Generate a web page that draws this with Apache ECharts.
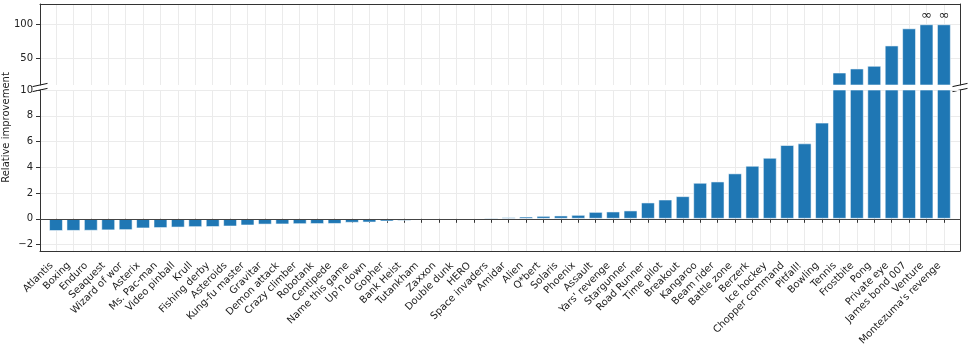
<!DOCTYPE html>
<html>
<head>
	<meta charset="UTF-8">
	<title>Relative improvement</title>
	<script src="https://cdn.jsdelivr.net/npm/echarts@6/dist/echarts.min.js"></script>
	<style>
		html, body { margin: 0; padding: 0; background: #fff; }
		#container { width: 969px; height: 352px; }
	</style>
</head>
<body>
	<div id="container"></div>
	<script>
		// games, sorted by relative improvement
		var games = ['Atlantis', 'Boxing', 'Enduro', 'Seaquest', 'Wizard of wor', 'Asterix', 'Ms. Pac-man',
			'Video pinball', 'Krull', 'Fishing derby', 'Asteroids', 'Kung-fu master', 'Gravitar', 'Demon attack',
			'Crazy climber', 'Robotank', 'Centipede', 'Name this game', "Up'n down", 'Gopher', 'Bank Heist',
			'Tutankham', 'Zaxxon', 'Double dunk', 'HERO', 'Space invaders', 'Amidar', 'Alien', 'Q*bert',
			'Solaris', 'Phoenix', 'Assault', "Yars' revenge", 'Stargunner', 'Road Runner', 'Time pilot',
			'Breakout', 'Kangaroo', 'Beam rider', 'Battle zone', 'Berzerk', 'Ice hockey', 'Chopper command',
			'Pitfall!', 'Bowling', 'Tennis', 'Frostbite', 'Pong', 'Private eye', 'James bond 007', 'Venture',
			"Montezuma's revenge"];
		var improvement = [-0.95, -0.94, -0.93, -0.9, -0.88, -0.75, -0.72,
			-0.68, -0.65, -0.64, -0.6, -0.52, -0.45, -0.44,
			-0.42, -0.41, -0.4, -0.31, -0.29, -0.21, -0.16,
			-0.1, -0.08, -0.06, -0.02, 0.1, 0.13, 0.18, 0.23,
			0.26, 0.31, 0.54, 0.57, 0.65, 1.27, 1.5,
			1.76, 2.8, 2.9, 3.53, 4.12, 4.74, 5.73,
			5.86, 7.47, 28.5, 34.5, 38.5, 68.6, 94, 100,
			100];
		// games whose improvement is infinite (drawn capped at 100)
		var infiniteGames = ['Venture', "Montezuma's revenge"];
		var topTicks = [50, 100];
		var bottomTicks = [-2, 0, 2, 4, 6, 8, 10];

		var dom = document.getElementById("container");
		var myChart = echarts.init(dom);
		var font = 'DejaVu Sans';
		var spine = '#333';
		var gridColor = '#ebebeb';
		var hidden = { show: false };

		var barStyle = {
			color: '#1f77b4',
			borderColor: 'rgba(255,255,255,0.55)',
			borderWidth: 1
		};

		// frame grids (0,1) carry the box, y ticks and horizontal grid;
		// inner grids (2,3) carry the categories with a little padding on both sides
		var panels = [{ top: 4, height: 81 }, { top: 90, height: 161 }];

		function frameX(grid, pos) {
			return {
				type: 'value', gridIndex: grid, min: 0, max: 1, position: pos,
				axisLine: { show: true, onZero: false, lineStyle: { color: spine } },
				axisTick: hidden, axisLabel: hidden, splitLine: hidden
			};
		}
		function frameY(grid, min, max, ticks, pos) {
			var labels = pos === 'left';
			return {
				type: 'value', gridIndex: grid, min: min, max: max, position: pos,
				axisLine: { show: true, lineStyle: { color: spine } },
				axisTick: { show: labels, length: 4, customValues: ticks, lineStyle: { color: spine } },
				axisLabel: {
					show: labels, fontSize: 10, color: '#222', margin: 7, customValues: ticks, fontFamily: font,
					formatter: function (v) { return v < 0 ? '\u2212' + Math.abs(v) : String(v); }
				},
				splitLine: { show: labels, customValues: ticks, lineStyle: { color: gridColor } }
			};
		}

		// little "//" marks where the axis is broken
		function breakMark(cx, cy) {
			return { type: 'line', shape: { x1: cx - 7.5, y1: cy + 1.6, x2: cx + 7.5, y2: cy - 1.6 },
				style: { stroke: '#111', lineWidth: 1 } };
		}

		var option = {
			animation: false,
			textStyle: { fontFamily: font },
			grid: [
				{ left: 40, right: 9, top: panels[0].top, height: panels[0].height },
				{ left: 40, right: 9, top: panels[1].top, height: panels[1].height },
				{ left: 47.3, right: 16.4, top: panels[0].top, height: panels[0].height },
				{ left: 47.3, right: 16.4, top: panels[1].top, height: panels[1].height }
			],
			xAxis: [
				frameX(0, 'top'),
				frameX(1, 'bottom'),
				{
					type: 'category', gridIndex: 2, data: games,
					axisLine: hidden, axisTick: hidden, axisLabel: hidden,
					splitLine: { show: true, interval: 0, alignWithLabel: true, lineStyle: { color: gridColor } }
				},
				{
					type: 'category', gridIndex: 3, data: games, position: 'bottom',
					axisLine: hidden,
					axisTick: { show: true, interval: 0, alignWithLabel: true, length: 4, lineStyle: { color: spine } },
					axisLabel: {
						interval: 0, rotate: 45, fontSize: 10, color: '#222', margin: 8.5,
						padding: [0, 6.4, 0, 0], fontFamily: font
					},
					splitLine: { show: true, interval: 0, alignWithLabel: true, lineStyle: { color: gridColor } }
				}
			],
			yAxis: [
				frameY(0, 10, 130, topTicks, 'left'),
				frameY(1, -2.5, 10, bottomTicks, 'left'),
				frameY(0, 10, 130, topTicks, 'right'),
				frameY(1, -2.5, 10, bottomTicks, 'right'),
				{ type: 'value', gridIndex: 2, min: 10, max: 130, axisLine: hidden, axisTick: hidden, axisLabel: hidden, splitLine: hidden },
				{ type: 'value', gridIndex: 3, min: -2.5, max: 10, axisLine: hidden, axisTick: hidden, axisLabel: hidden, splitLine: hidden }
			],
			series: [
				{
					type: 'bar', xAxisIndex: 2, yAxisIndex: 4, data: improvement, barWidth: '80%',
					itemStyle: barStyle, clip: true,
					label: {
						show: true, position: 'top', distance: 2, fontSize: 13, color: '#222',
						formatter: function (p) { return infiniteGames.indexOf(p.name) >= 0 ? '\u221e' : ''; }
					}
				},
				{
					type: 'bar', xAxisIndex: 3, yAxisIndex: 5, data: improvement, barWidth: '80%',
					itemStyle: barStyle, clip: true
				},
				{
					// zero reference line across the whole lower panel
					type: 'line', xAxisIndex: 1, yAxisIndex: 1, data: [], silent: true,
					markLine: {
						silent: true, symbol: 'none', label: { show: false },
						lineStyle: { color: '#444', width: 1, type: 'solid' },
						data: [{ yAxis: 0 }]
					}
				}
			],
			graphic: [
				{ type: 'text', x: 1, y: 127.5, rotation: Math.PI / 2,
					style: { text: 'Relative improvement', fontSize: 10, fontFamily: font, fill: '#222', align: 'center', verticalAlign: 'top' } },
				breakMark(40, 85),
				breakMark(40, 90),
				breakMark(960, 85),
				breakMark(960, 90)
			]
		};

		if (option && typeof option === "object") {
			myChart.setOption(option, true);
		}
	</script>
</body>
</html>
